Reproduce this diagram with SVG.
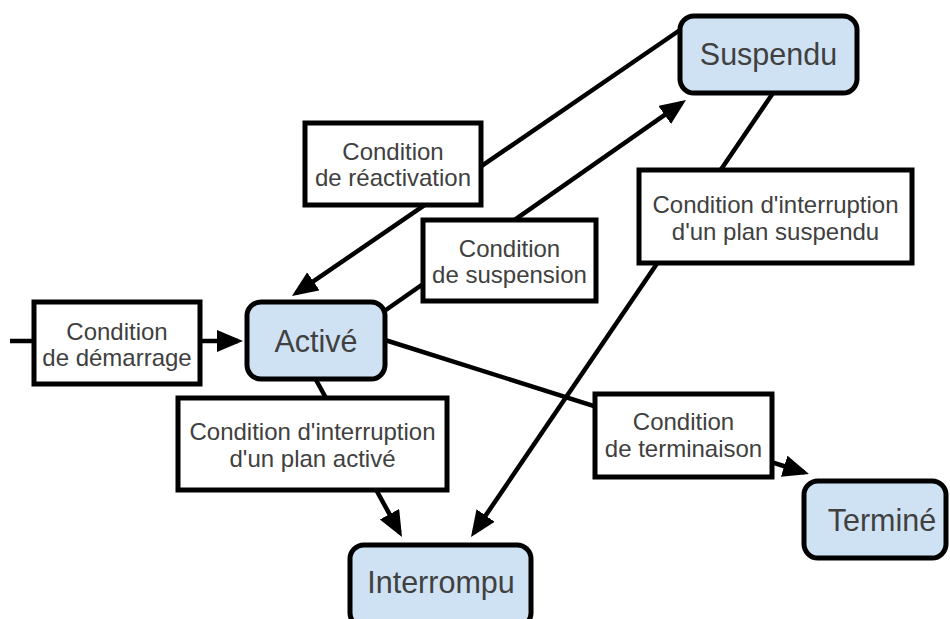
<svg xmlns="http://www.w3.org/2000/svg" width="950" height="619" viewBox="0 0 950 619">
<style>
.node rect{fill:#cfe2f3;stroke:#000;stroke-width:5}
.node text{font-family:"Liberation Sans",Arial,sans-serif;font-size:30.5px;fill:#404040;text-anchor:middle}
.lbl rect{fill:#fff;stroke:#000;stroke-width:5}
.lbl text{font-family:"Liberation Sans",Arial,sans-serif;font-size:24px;fill:#404040;text-anchor:middle}
.edge{stroke:#000;stroke-width:4.5;fill:none;marker-end:url(#arr)}
</style>
<defs>
<marker id="arr" markerUnits="userSpaceOnUse" markerWidth="28" markerHeight="24" refX="21" refY="11" orient="auto">
<path d="M0,0 L26,11 L0,22 Z" fill="#000"/>
</marker>
</defs>
<g id="connectors">
<line class="edge" x1="10" y1="341" x2="238" y2="341"/>
<line class="edge" x1="680" y1="30" x2="296.1" y2="293.2"/>
<line class="edge" x1="383" y1="312" x2="681.9" y2="102.9"/>
<line class="edge" x1="773" y1="93" x2="473.8" y2="532.9"/>
<line class="edge" x1="315" y1="378" x2="399.6" y2="532.6"/>
<line class="edge" x1="385" y1="340" x2="804.2" y2="472.5"/>
</g>
<g id="lbl-demarrage" class="lbl"><rect x="34" y="302" width="166" height="82"/><text x="117" y="340">Condition</text><text x="117" y="366">de démarrage</text></g>
<g id="lbl-reactivation" class="lbl"><rect x="305" y="123" width="176" height="82"/><text x="393" y="160">Condition</text><text x="393" y="186">de réactivation</text></g>
<g id="lbl-suspension" class="lbl"><rect x="423" y="220" width="173" height="81"/><text x="509.5" y="257">Condition</text><text x="509.5" y="283">de suspension</text></g>
<g id="lbl-int-suspendu" class="lbl"><rect x="639" y="170" width="273" height="93"/><text x="775.5" y="213">Condition d'interruption</text><text x="775.5" y="240">d'un plan suspendu</text></g>
<g id="lbl-int-active" class="lbl"><rect x="178" y="398" width="269" height="92"/><text x="312.5" y="440">Condition d'interruption</text><text x="312.5" y="467">d'un plan activé</text></g>
<g id="lbl-terminaison" class="lbl"><rect x="595" y="394" width="177" height="83"/><text x="683.5" y="430">Condition</text><text x="683.5" y="457">de terminaison</text></g>
<g id="suspendu" class="node"><rect x="680" y="16" width="177" height="77" rx="14"/><text x="768.5" y="65">Suspendu</text></g>
<g id="active" class="node"><rect x="247" y="302" width="138" height="77" rx="14"/><text x="316" y="352">Activé</text></g>
<g id="interrompu" class="node"><rect x="350" y="545" width="181" height="82" rx="14"/><text x="441" y="593">Interrompu</text></g>
<g id="termine" class="node"><rect x="804" y="481" width="142" height="77" rx="14"/><text x="882" y="531">Terminé</text></g>
</svg>
